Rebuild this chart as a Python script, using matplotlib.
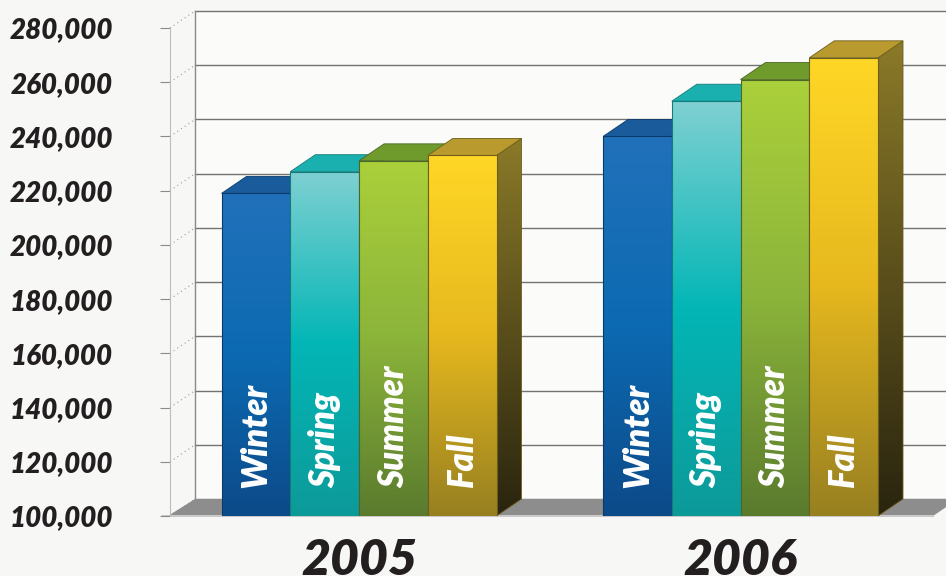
import numpy as np
import matplotlib
matplotlib.use("Agg")
import matplotlib.pyplot as plt
from matplotlib.patches import Polygon
from matplotlib.colors import LinearSegmentedColormap

# data
years = ["2005", "2006"]
seasons = ["Winter", "Spring", "Summer", "Fall"]
values_2005 = [219000, 227000, 231000, 233000]
values_2006 = [240000, 253000, 261000, 269000]
yticks = list(range(100000, 280001, 20000))

# look
front_cols = {
    "Winter": ["#2171ba", "#0c6ab2", "#0c4a89"],
    "Spring": ["#7fd0d2", "#03b6b6", "#0d9a99"],
    "Summer": ["#abd03b", "#8bb43a", "#5a7b2e"],
    "Fall": ["#ffd726", "#e6b81e", "#978021"],
}
top_cols = {"Winter": "#1a5b9c", "Spring": "#1ab0b0", "Summer": "#6f9a2c", "Fall": "#b99a2e"}
side_cols = {
    "Winter": ["#174f87", "#0a2f57"],
    "Spring": ["#0f8c8c", "#06504f"],
    "Summer": ["#557a25", "#2e4417"],
    "Fall": ["#8b7a28", "#29240f"],
}
edge_cols = {"Winter": "#0b3a6a", "Spring": "#157c7c", "Summer": "#4b6625", "Fall": "#6e5e1c"}
txt = "#231f20"
bg = "#f7f7f5"
font = "Lato"

fig = plt.figure(figsize=(9.46, 5.76), dpi=100, facecolor=bg)
W, H = 946, 576
ax = fig.add_axes([170 / W, (H - 516) / H, (933 - 170) / W, (516 - 28) / H])
ax.set_facecolor("none")
xmax = 11.1
ymin, ymax = 100000, 280000
ax.set_xlim(0, xmax)
ax.set_ylim(ymin, ymax)

# depth offset (pixels -> data units)
dx = 25 / ((933 - 170) / xmax)
dy = 17 / ((516 - 28) / (ymax - ymin))

# walls
back = Polygon([(dx, ymin + dy), (xmax + dx, ymin + dy), (xmax + dx, ymax + dy), (dx, ymax + dy)],
               closed=True, facecolor="#fbfbfa", edgecolor="none", clip_on=False, zorder=0)
ax.add_patch(back)
for v in yticks:
    ax.plot([dx, xmax + 2 * dx], [v + dy, v + dy], color="#727272", lw=1, clip_on=False, zorder=1)
    ax.plot([0, dx], [v, v + dy], color="#9a9a9a", lw=0.8, ls=(0, (1, 3)), clip_on=False, zorder=1)
ax.plot([dx, dx], [ymin + dy, ymax + dy], color="#8a8a8a", lw=1, clip_on=False, zorder=1)

# floor
floor = Polygon([(-0.03, ymin), (xmax, ymin), (xmax + dx, ymin + dy), (dx, ymin + dy)],
                closed=True, facecolor="#8d8d8d", edgecolor="none", clip_on=False, zorder=1)
ax.add_patch(floor)
ax.plot([-0.1, xmax], [ymin, ymin], color="#c9c9c9", lw=1.5, clip_on=False, zorder=1)


def grad_fill(poly, colors, z):
    ax.add_patch(poly)
    xs = [p[0] for p in poly.get_xy()]
    ys = [p[1] for p in poly.get_xy()]
    cmap = LinearSegmentedColormap.from_list("g", colors[::-1])
    g = np.linspace(1, 0, 256).reshape(-1, 1)
    im = ax.imshow(g, cmap=cmap, extent=[min(xs), max(xs), min(ys), max(ys)],
                   aspect="auto", zorder=z, interpolation="bilinear")
    im.set_clip_path(poly)


z = 3
for start, vals in [(0.75, values_2005), (6.3, values_2006)]:
    for i, (s, v) in enumerate(zip(seasons, vals)):
        x0 = start + i
        x1 = x0 + 1
        side = Polygon([(x1, ymin), (x1, v), (x1 + dx, v + dy), (x1 + dx, ymin + dy)],
                       closed=True, facecolor="none", edgecolor=edge_cols[s], lw=0.6, zorder=z + 0.5)
        grad_fill(side, side_cols[s], z)
        top = Polygon([(x0, v), (x1, v), (x1 + dx, v + dy), (x0 + dx, v + dy)],
                      closed=True, facecolor=top_cols[s], edgecolor=edge_cols[s], lw=0.6, zorder=z + 0.5)
        ax.add_patch(top)
        front = Polygon([(x0, ymin), (x1, ymin), (x1, v), (x0, v)],
                        closed=True, facecolor="none", edgecolor=edge_cols[s], lw=0.8, zorder=z + 1.5)
        grad_fill(front, front_cols[s], z + 1)
        ax.annotate(s, (x0 + 0.5, ymin), xytext=(0, 20), textcoords="offset points",
                    rotation=90, ha="center", va="bottom", color="white",
                    fontsize=25, fontweight="heavy", fontstyle="italic", family=font, zorder=z + 2)
        z += 3

ax.set_xlim(0, xmax)
ax.set_ylim(ymin, ymax)

# axes
for sp in ["top", "right", "bottom"]:
    ax.spines[sp].set_visible(False)
ax.spines["left"].set_color("#bdbdbd")
ax.spines["left"].set_zorder(2)
ax.set_yticks(yticks)
ax.set_yticklabels([f"{v:,}" for v in yticks], fontsize=20, fontweight="heavy",
                   fontstyle="italic", family=font, color=txt)
ax.tick_params(axis="y", length=7, color="#8a8a8a", pad=34)
ax.set_xticks([2.75, 8.3])
ax.set_xticklabels(years, fontsize=36, fontweight="heavy", fontstyle="italic", family=font, color=txt)
ax.tick_params(axis="x", length=0, pad=16)

fig.savefig("out.png", dpi=100, facecolor=bg)
